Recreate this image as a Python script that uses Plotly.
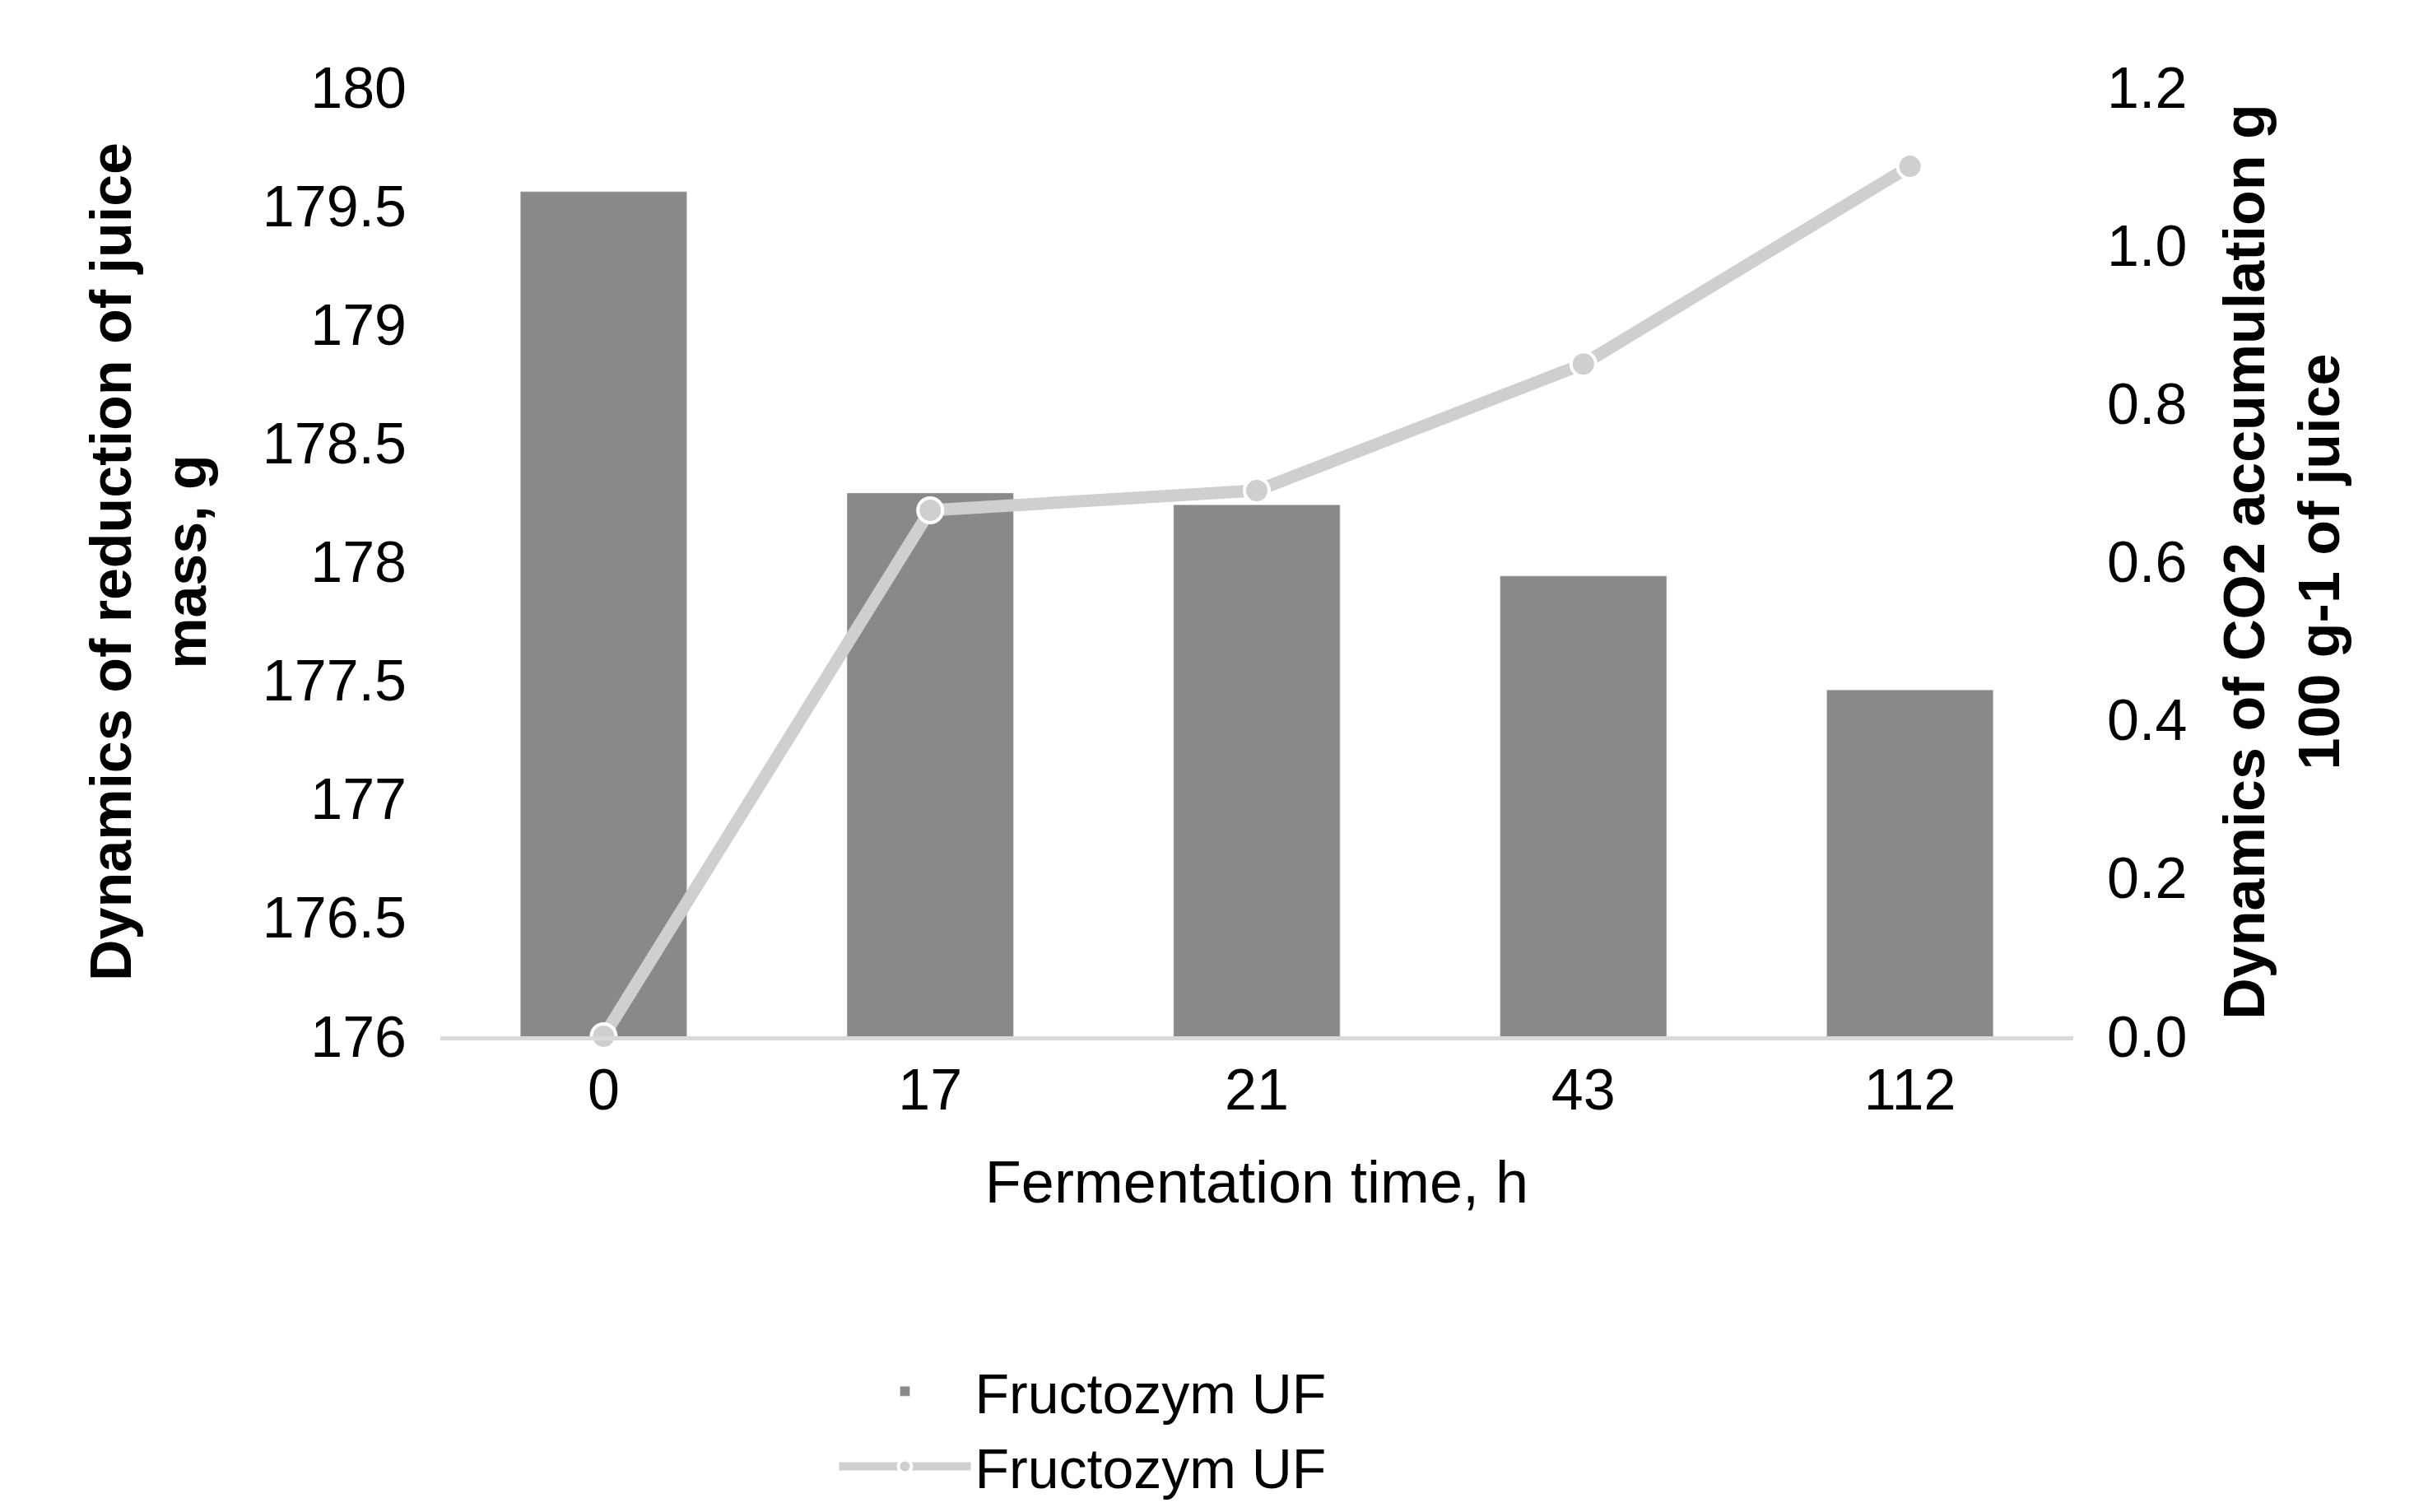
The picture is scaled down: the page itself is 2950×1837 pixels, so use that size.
import plotly.graph_objects as go

categories = ["0", "17", "21", "43", "112"]
mass = [179.56, 178.29, 178.24, 177.94, 177.46]
co2 = [0.0, 0.665, 0.69, 0.85, 1.10]
left_ticks = [176, 176.5, 177, 177.5, 178, 178.5, 179, 179.5, 180]
left_labels = ["176", "176.5", "177", "177.5", "178", "178.5", "179", "179.5", "180"]
right_ticks = [0, 0.2, 0.4, 0.6, 0.8, 1.0, 1.2]
right_labels = ["0.0", "0.2", "0.4", "0.6", "0.8", "1.0", "1.2"]

F = "Liberation Sans, Arial, sans-serif"
fig = go.Figure()
fig.add_trace(go.Bar(x=categories, y=mass, name="Fructozym UF", marker_color="#898989",
                     width=0.51, yaxis="y"))
fig.add_trace(go.Scatter(x=categories, y=co2, name="Fructozym UF", yaxis="y2", mode="lines+markers",
                         line=dict(color="#cfcfcf", width=15), cliponaxis=False,
                         marker=dict(size=30, color="#cfcfcf", line=dict(color="white", width=4))))

fig.update_layout(
    width=2950, height=1837, paper_bgcolor="white", plot_bgcolor="white",
    margin=dict(l=527, r=2950 - 2511, t=98, b=1837 - 1345),
    font=dict(family=F, size=68, color="black"),
    xaxis=dict(title=dict(text="Fermentation time, h", font=dict(size=72), standoff=50),
               showline=True, linecolor="#d9d9d9", linewidth=5, ticks="", tickfont=dict(size=70)),
    yaxis=dict(range=[176, 180], tickvals=left_ticks, ticktext=left_labels,
               showgrid=False, zeroline=False, ticklabelstandoff=40, tickfont=dict(size=70),
               title=dict(text="<b>Dynamics of reduction of juice<br>mass, g</b>", font=dict(size=70), standoff=45)),
    yaxis2=dict(range=[0, 1.2], tickvals=right_ticks, ticktext=right_labels, overlaying="y", side="right",
                showgrid=False, zeroline=False, ticklabelstandoff=40, tickfont=dict(size=70),
                title=dict(text="<b>Dynamics of CO2 accumulation g<br>100 g-1 of juice</b>", font=dict(size=70), standoff=45)),
    legend=dict(orientation="h", x=0.5, xanchor="center", y=-0.33, yanchor="top",
                font=dict(size=68), itemwidth=160, entrywidth=850),
    showlegend=True,
)
fig.write_html("out.html")
